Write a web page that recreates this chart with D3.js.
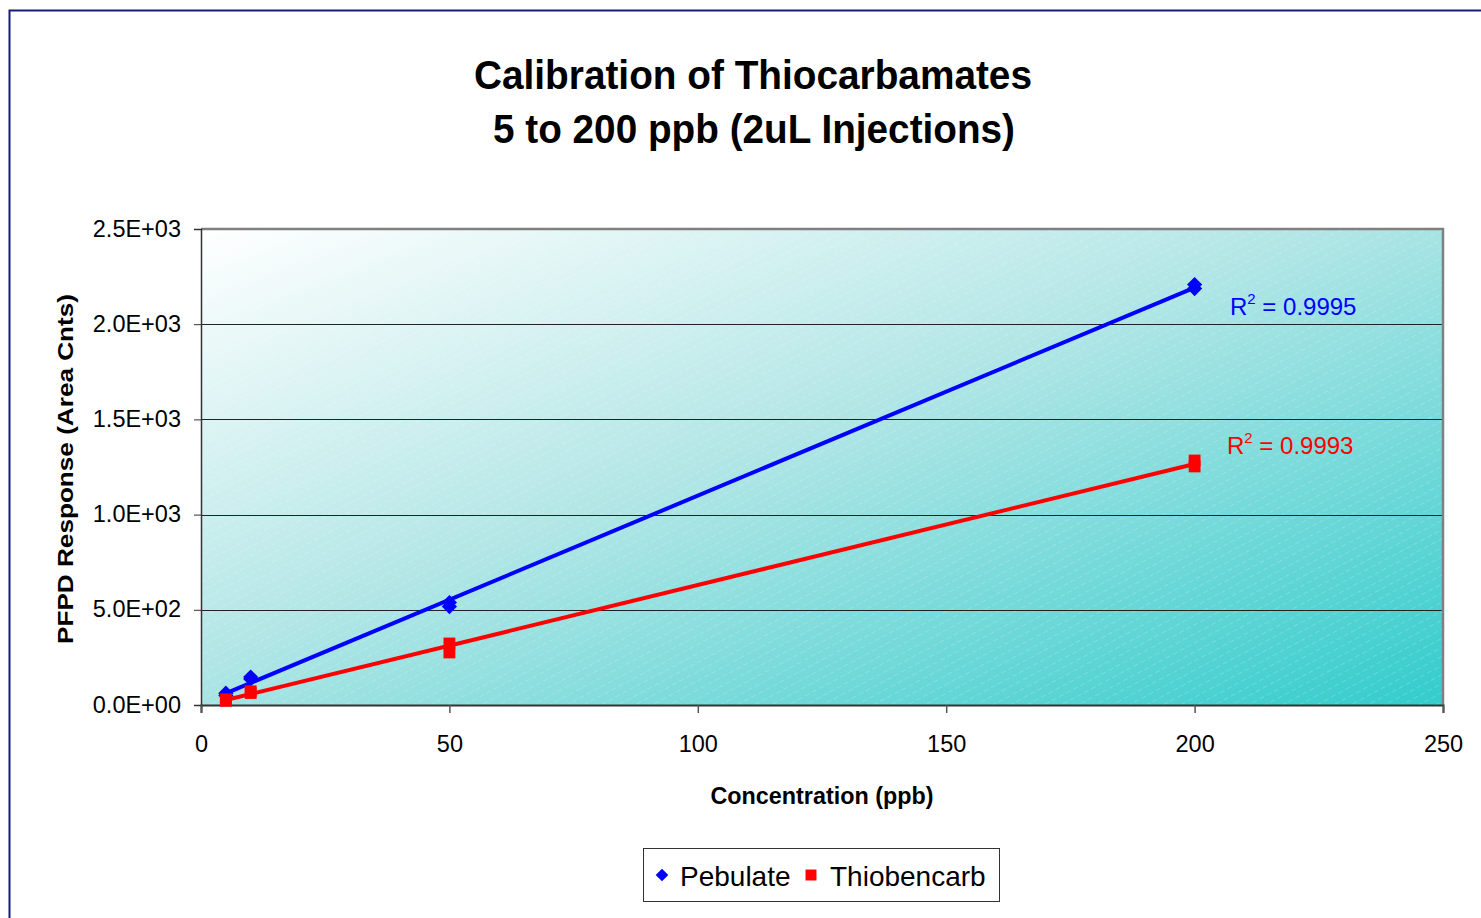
<!DOCTYPE html>
<html><head><meta charset="utf-8">
<script src="https://cdn.jsdelivr.net/npm/d3@7"></script>
<style>
html,body{margin:0;padding:0;background:#fff;}
svg text{font-family:Arial,"Liberation Sans",sans-serif;}
</style></head>
<body>
<svg id="chart" width="1481" height="918"></svg>
<script>
// ---- data ----
const concentration = [5, 5, 10, 10, 50, 50, 200, 200];
const pebulate      = [50, 62, 137, 147, 538, 517, 2208, 2187];
const thiobencarb   = [22, 30, 63, 72, 323, 276, 1284, 1253];
const seriesNames   = ["Pebulate", "Thiobencarb"];
const r2Labels      = ["0.9995", "0.9993"];
const xTicks        = [0, 50, 100, 150, 200, 250];
const yTicks        = [0, 500, 1000, 1500, 2000, 2500];
const titleLines    = ["Calibration of Thiocarbamates", "5 to 200 ppb (2uL Injections)"];

const svg = d3.select("#chart");
const plot = {left: 201, right: 1443, top: 229, bottom: 705};

const x = d3.scaleLinear().domain([0, 250]).range([plot.left, plot.right]);
const y = d3.scaleLinear().domain([0, 2500]).range([plot.bottom, plot.top]);

// outer chart border
svg.append("rect").attr("x", 9.5).attr("y", 10.5).attr("width", 1600).attr("height", 1000)
  .attr("fill", "#fff").attr("stroke", "#1a1a7a").attr("stroke-width", 2);

const defs = svg.append("defs");
const grad = defs.append("linearGradient").attr("id", "bg")
  .attr("x1", 0).attr("y1", 0).attr("x2", 1).attr("y2", 1);
grad.append("stop").attr("offset", "0%").attr("stop-color", "#ffffff");
grad.append("stop").attr("offset", "45%").attr("stop-color", "#b3e6e6");
grad.append("stop").attr("offset", "100%").attr("stop-color", "#33cccc");

const pat = defs.append("pattern").attr("id", "stripes").attr("patternUnits", "userSpaceOnUse")
  .attr("width", 8).attr("height", 8).attr("patternTransform", "rotate(-28)");
pat.append("line").attr("x1", 0).attr("y1", 0).attr("x2", 5).attr("y2", 0)
  .attr("stroke", "#ffffff").attr("stroke-opacity", 0.35).attr("stroke-width", 1);

svg.append("rect").attr("x", plot.left).attr("y", plot.top)
  .attr("width", plot.right - plot.left).attr("height", plot.bottom - plot.top)
  .attr("fill", "url(#bg)");
svg.append("rect").attr("x", plot.left).attr("y", plot.top)
  .attr("width", plot.right - plot.left).attr("height", plot.bottom - plot.top)
  .attr("fill", "url(#stripes)");

// gridlines
svg.append("g").selectAll("line").data(yTicks.filter(d => d > 0 && d < 2500)).join("line")
  .attr("x1", plot.left).attr("x2", plot.right)
  .attr("y1", d => Math.round(y(d)) + 0.5).attr("y2", d => Math.round(y(d)) + 0.5)
  .attr("stroke", "#222").attr("stroke-width", 1);

// plot frame (top & right grey)
svg.append("path")
  .attr("d", `M${plot.left},${plot.top} H${plot.right} V${plot.bottom}`)
  .attr("fill", "none").attr("stroke", "#808080").attr("stroke-width", 2.5);

// axes
const fmtY = d => {
  if (d === 0) return "0.0E+00";
  const e = Math.floor(Math.log10(d));
  const m = d / Math.pow(10, e);
  return m.toFixed(1) + "E+" + String(e).padStart(2, "0");
};
const yAxis = d3.axisLeft(y).tickValues(yTicks).tickFormat(fmtY).tickSize(7).tickPadding(13);
const gy = svg.append("g").attr("transform", `translate(${plot.left},0)`).call(yAxis);
gy.select(".domain").attr("stroke", "#333").attr("stroke-width", 1.5);
gy.selectAll(".tick line").attr("stroke", "#333");
gy.selectAll("text").attr("font-size", 23.5).attr("fill", "#000").attr("dy", "0.3em");

const xAxis = d3.axisBottom(x).tickValues(xTicks).tickFormat(d3.format("d")).tickSize(8).tickPadding(22);
const gx = svg.append("g").attr("transform", `translate(0,${plot.bottom})`).call(xAxis);
gx.select(".domain").attr("stroke", "#333").attr("stroke-width", 2);
gx.selectAll(".tick line").attr("stroke", "#555").attr("stroke-width", 1.5);
gx.selectAll("text").attr("font-size", 23.5).attr("fill", "#000");

// titles
svg.append("text").attr("x", 753).attr("y", 89).attr("text-anchor", "middle")
  .attr("font-size", 40).attr("font-weight", "bold")
  .attr("textLength", 558).attr("lengthAdjust", "spacingAndGlyphs").text(titleLines[0]);
svg.append("text").attr("x", 754).attr("y", 143).attr("text-anchor", "middle")
  .attr("font-size", 40).attr("font-weight", "bold")
  .attr("textLength", 522).attr("lengthAdjust", "spacingAndGlyphs").text(titleLines[1]);

svg.append("text").attr("x", 822).attr("y", 804).attr("text-anchor", "middle")
  .attr("font-size", 24).attr("font-weight", "bold")
  .attr("textLength", 223).attr("lengthAdjust", "spacingAndGlyphs").text("Concentration (ppb)");

svg.append("text").attr("transform", "translate(73,469) rotate(-90)").attr("text-anchor", "middle")
  .attr("font-size", 22).attr("font-weight", "bold")
  .attr("textLength", 350).attr("lengthAdjust", "spacingAndGlyphs").text("PFPD Response (Area Cnts)");

// trend lines (least squares on data)
function fit(xs, ys) {
  const mx = d3.mean(xs), my = d3.mean(ys);
  let sxy = 0, sxx = 0;
  xs.forEach((v, i) => { sxy += (v - mx) * (ys[i] - my); sxx += (v - mx) * (v - mx); });
  const b = sxy / sxx; return {b, a: my - b * mx};
}
const series = [
  {name: seriesNames[0], values: pebulate, color: "#0000ff", diamond: true, r2: r2Labels[0]},
  {name: seriesNames[1], values: thiobencarb, color: "#ff0000", diamond: false, r2: r2Labels[1]}
];
const xMin = d3.min(concentration), xMax = d3.max(concentration);
const line = d3.line().x(d => x(d[0])).y(d => y(d[1]));

series.forEach(s => {
  const f = fit(concentration, s.values);
  svg.append("path").datum([[xMin, f.a + f.b * xMin], [xMax, f.a + f.b * xMax]])
    .attr("d", line).attr("fill", "none").attr("stroke", s.color).attr("stroke-width", 4);
});
const markerPath = s => d3.symbol().type(d3.symbolSquare).size(s.diamond ? 115 : 140)();
const markerRot = s => s.diamond ? " rotate(45)" : "";
series.forEach(s => {
  svg.append("g").selectAll("path").data(concentration.map((c, i) => [c, s.values[i]])).join("path")
    .attr("transform", d => `translate(${x(d[0])},${y(d[1])})${markerRot(s)}`)
    .attr("d", markerPath(s)).attr("fill", s.color);
});

// R^2 labels
const r2Pos = [{x: 1230, y: 315}, {x: 1227, y: 454}];
series.forEach((s, i) => {
  const t = svg.append("text").attr("x", r2Pos[i].x).attr("y", r2Pos[i].y)
    .attr("font-size", 24).attr("fill", s.color);
  t.append("tspan").text("R");
  t.append("tspan").attr("dy", -11).attr("font-size", 15).text("2");
  t.append("tspan").attr("dy", 11).text(" = " + s.r2);
});

// legend
const lg = svg.append("g");
lg.append("rect").attr("x", 643.5).attr("y", 848.5).attr("width", 356).attr("height", 53)
  .attr("fill", "#fff").attr("stroke", "#333").attr("stroke-width", 1);
const legX = [{m: 662, t: 680}, {m: 811, t: 830}];
series.forEach((s, i) => {
  lg.append("path").attr("transform", `translate(${legX[i].m},875)${markerRot(s)}`)
    .attr("d", d3.symbol().type(d3.symbolSquare).size(s.diamond ? 80 : 120)()).attr("fill", s.color);
  lg.append("text").attr("x", legX[i].t).attr("y", 886).attr("font-size", 28).attr("fill", "#000").text(s.name);
});
</script>
</body></html>
